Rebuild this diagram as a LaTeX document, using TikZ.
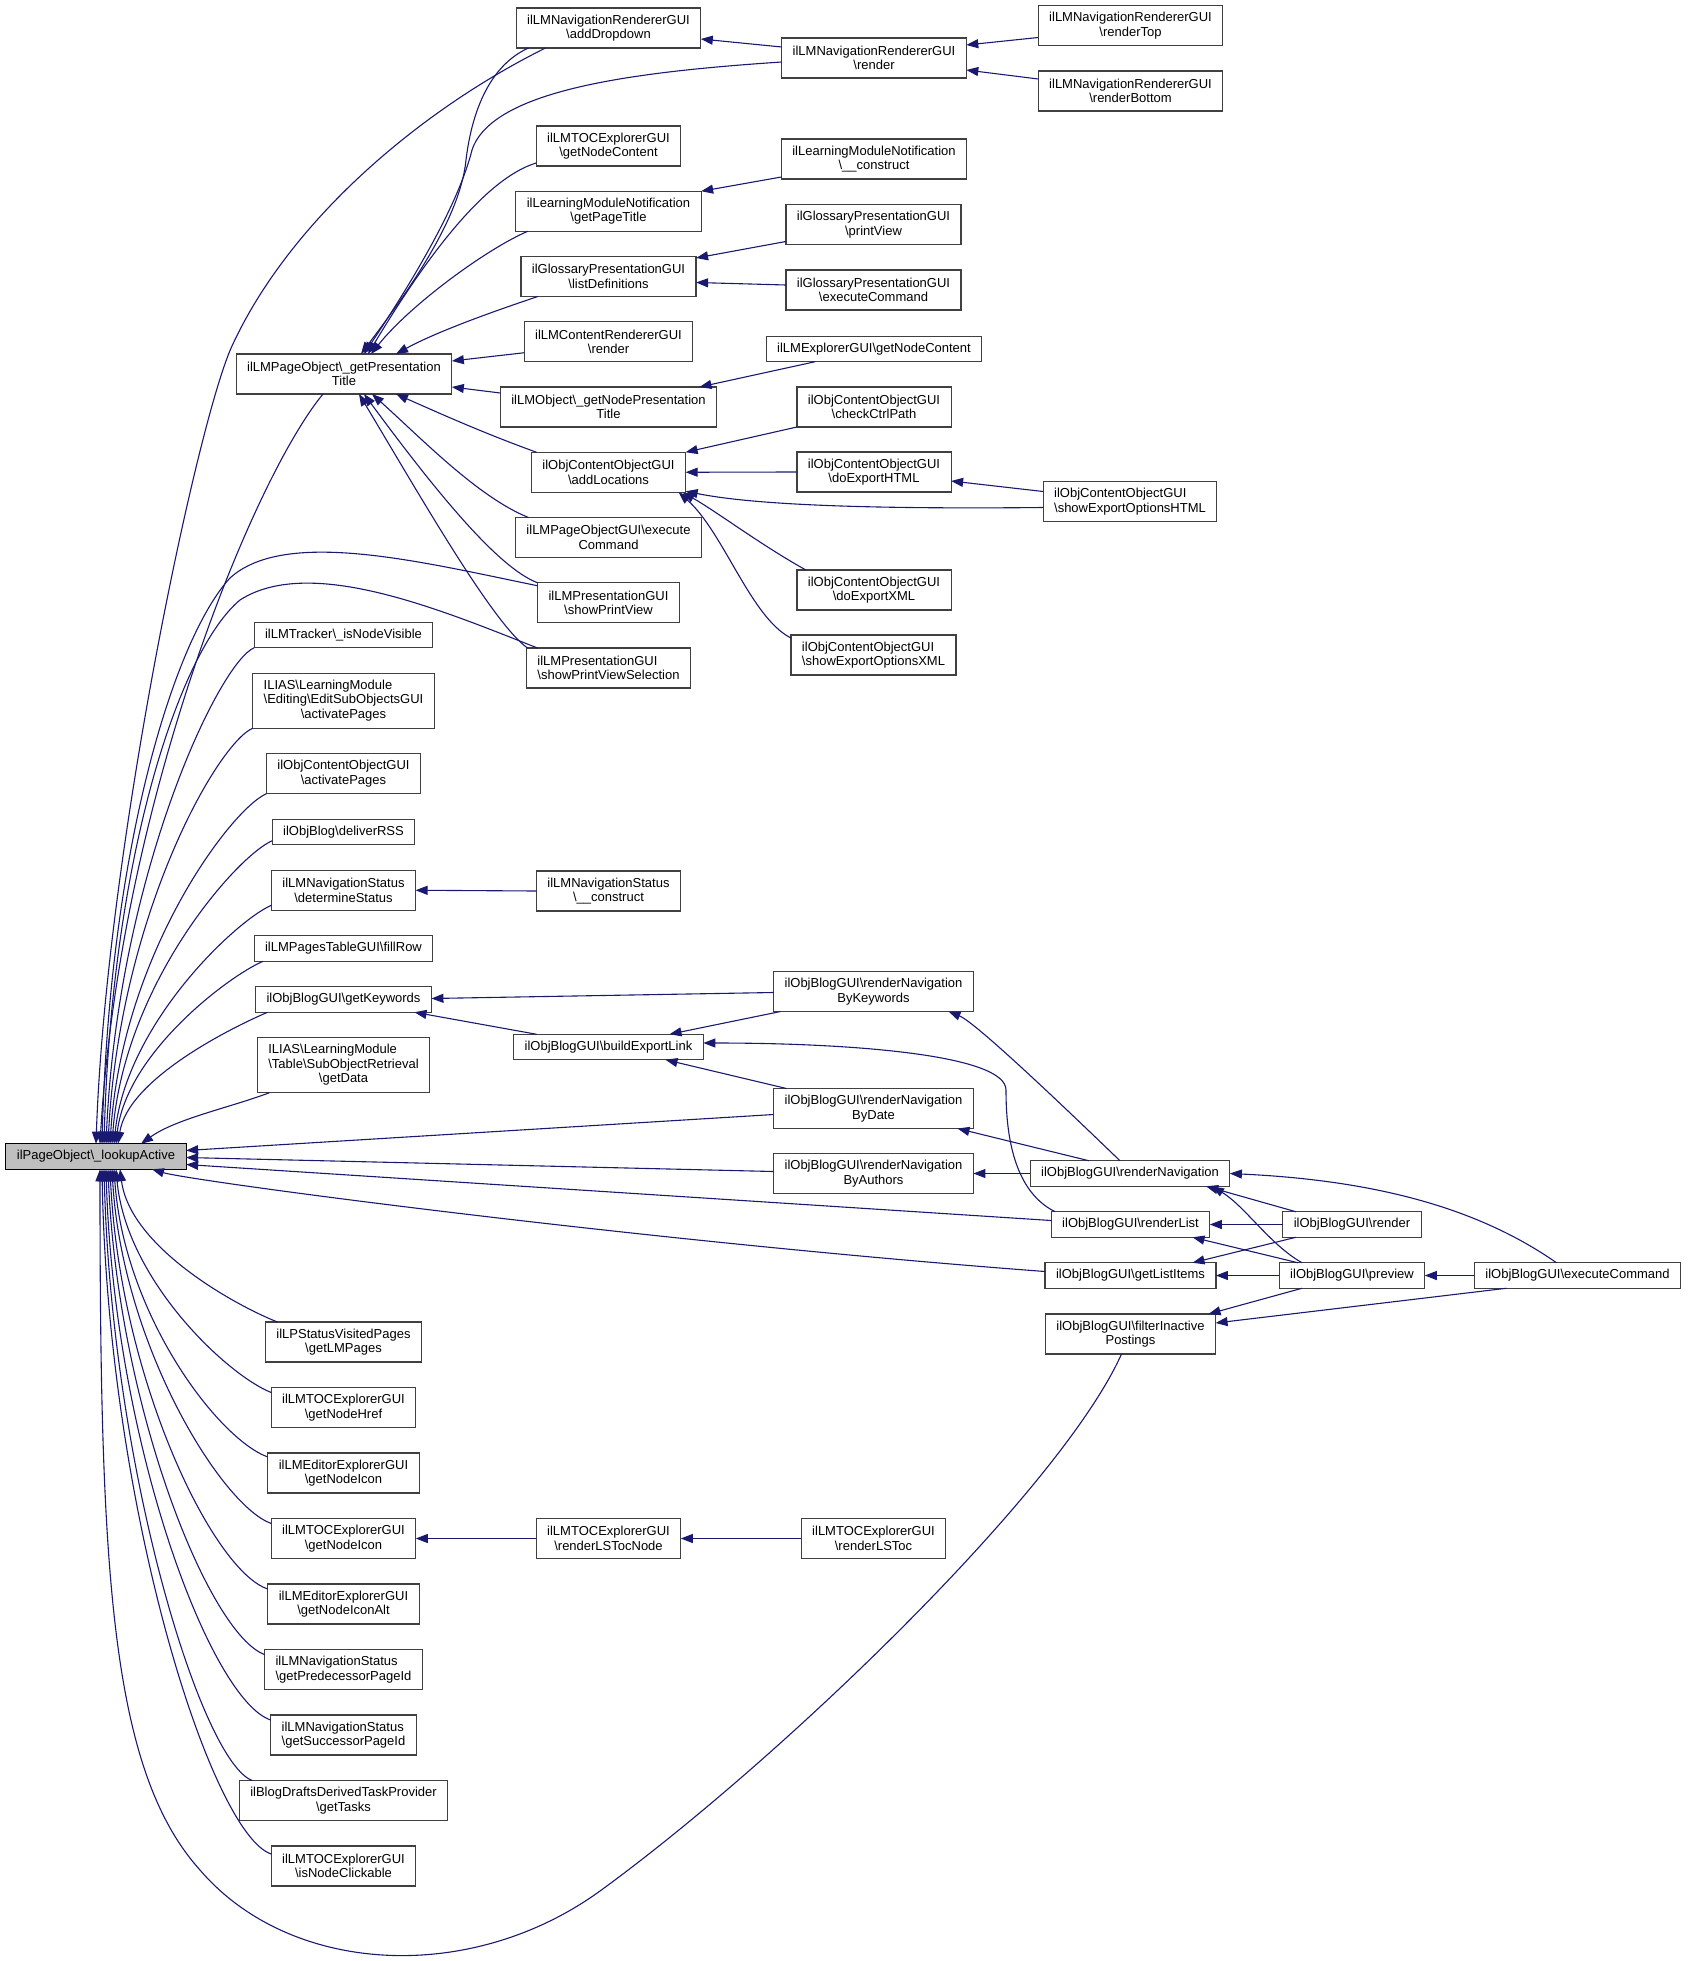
\documentclass[tikz,border=0pt]{standalone}
\usepackage{fontspec}
\setmainfont{Liberation Sans}
\usetikzlibrary{arrows.meta, positioning}
\definecolor{callblue}{RGB}{25,25,112}
\definecolor{boxgrey}{RGB}{64,64,64}
\definecolor{rootgrey}{RGB}{191,191,191}
\newcommand{\bksl}{\textbackslash}

\begin{document}
\begin{tikzpicture}[
        x=1pt, y=-1pt,
        node distance=25.5pt,
        fn/.style={rectangle, draw=boxgrey, line width=1.2pt, fill=white, align=center, font=\fontsize{13}{14.5}\selectfont, inner xsep=11pt, inner ysep=0pt, outer sep=0pt, minimum height=25.5pt},
        fntwo/.style={fn, minimum height=40pt},
        fnthree/.style={fn, minimum height=55pt},
        rootfn/.style={fn, draw=black, fill=rootgrey},
        call/.style={draw=callblue, line width=1.1pt, -{Triangle[length=12pt, width=9pt]}}
    ]
    \useasboundingbox (0,0) rectangle (1687,1961);

    % nodes
    \node[rootfn] (root) at (96,1156.5) {ilPageObject\bksl\_lookupActive};
    \node[fntwo] (prestitle) at (344,374) {ilLMPageObject\bksl\_getPresentation\\Title};

    \node[fn] (isvisible) at (343.5,635) {ilLMTracker\bksl\_isNodeVisible};
    \node[fnthree, below=of isvisible] (editsub) {\begin{tabular}{@{}l@{}}ILIAS\bksl LearningModule\\\bksl Editing\bksl EditSubObjectsGUI\\\multicolumn{1}{@{}c@{}}{\bksl activatePages}\end{tabular}};
    \node[fntwo, below=of editsub] (actpages) {ilObjContentObjectGUI\\\bksl activatePages};
    \node[fn, below=of actpages] (rss) {ilObjBlog\bksl deliverRSS};
    \node[fntwo, below=of rss] (detstatus) {ilLMNavigationStatus\\\bksl determineStatus};
    \node[fn, below=of detstatus] (fillrow) {ilLMPagesTableGUI\bksl fillRow};
    \node[fn, below=of fillrow] (keywords) {ilObjBlogGUI\bksl getKeywords};
    \node[fnthree, below=of keywords] (getdata) {\begin{tabular}{@{}l@{}}ILIAS\bksl LearningModule\\\bksl Table\bksl SubObjectRetrieval\\\multicolumn{1}{@{}c@{}}{\bksl getData}\end{tabular}};

    \node[fntwo] (lmpages) at (343.5,1342) {ilLPStatusVisitedPages\\\bksl getLMPages};
    \node[fntwo, below=of lmpages] (nodehref) {ilLMTOCExplorerGUI\\\bksl getNodeHref};
    \node[fntwo, below=of nodehref] (edicon) {ilLMEditorExplorerGUI\\\bksl getNodeIcon};
    \node[fntwo, below=of edicon] (tocicon) {ilLMTOCExplorerGUI\\\bksl getNodeIcon};
    \node[fntwo, below=of tocicon] (iconalt) {ilLMEditorExplorerGUI\\\bksl getNodeIconAlt};
    \node[fntwo, align=left, below=of iconalt] (predecessor) {ilLMNavigationStatus\\\bksl getPredecessorPageId};
    \node[fntwo, align=left, below=of predecessor] (successor) {ilLMNavigationStatus\\\bksl getSuccessorPageId};
    \node[fntwo, below=of successor] (tasks) {ilBlogDraftsDerivedTaskProvider\\\bksl getTasks};
    \node[fntwo, below=of tasks] (clickable) {ilLMTOCExplorerGUI\\\bksl isNodeClickable};

    \node[fntwo] (adddrop) at (608.5,28) {ilLMNavigationRendererGUI\\\bksl addDropdown};
    \node[fntwo] (toccontent) at (608.5,146) {ilLMTOCExplorerGUI\\\bksl getNodeContent};
    \node[fntwo, below=25.25pt of toccontent] (pagetitle) {ilLearningModuleNotification\\\bksl getPageTitle};
    \node[fntwo, below=25.25pt of pagetitle] (listdef) {ilGlossaryPresentationGUI\\\bksl listDefinitions};
    \node[fntwo, below=25.25pt of listdef] (ctrender) {ilLMContentRendererGUI\\\bksl render};
    \node[fntwo, below=25.25pt of ctrender] (nodepres) {ilLMObject\bksl\_getNodePresentation\\Title};
    \node[fntwo, below=25.25pt of nodepres] (addloc) {ilObjContentObjectGUI\\\bksl addLocations};
    \node[fntwo, below=25.25pt of addloc] (poexec) {ilLMPageObjectGUI\bksl execute\\Command};
    \node[fntwo, below=25.25pt of poexec] (printview) {ilLMPresentationGUI\\\bksl showPrintView};
    \node[fntwo, align=left, below=25.25pt of printview] (printsel) {ilLMPresentationGUI\\\bksl showPrintViewSelection};
    \node[fntwo] (nsconstruct) at (608.5,891) {ilLMNavigationStatus\\\bksl\_\_construct};
    \node[fn] (exportlink) at (608.5,1047) {ilObjBlogGUI\bksl buildExportLink};
    \node[fntwo] (lstocnode) at (608.5,1538.5) {ilLMTOCExplorerGUI\\\bksl renderLSTocNode};

    \node[fntwo] (navrender) at (874,58) {ilLMNavigationRendererGUI\\\bksl render};
    \node[fntwo] (lmnconstruct) at (874,159) {ilLearningModuleNotification\\\bksl\_\_construct};
    \node[fntwo] (gprint) at (873.5,224.5) {ilGlossaryPresentationGUI\\\bksl printView};
    \node[fntwo] (gexec) at (873.5,290) {ilGlossaryPresentationGUI\\\bksl executeCommand};
    \node[fn] (lmexpl) at (874,349) {ilLMExplorerGUI\bksl getNodeContent};
    \node[fntwo] (ctrlpath) at (874,407) {ilObjContentObjectGUI\\\bksl checkCtrlPath};
    \node[fntwo] (doexphtml) at (874,472) {ilObjContentObjectGUI\\\bksl doExportHTML};
    \node[fntwo] (doexpxml) at (874,590) {ilObjContentObjectGUI\\\bksl doExportXML};
    \node[fntwo, align=left] (expoptxml) at (873.5,655) {ilObjContentObjectGUI\\\bksl showExportOptionsXML};
    \node[fntwo] (bykw) at (873.5,991.5) {ilObjBlogGUI\bksl renderNavigation\\ByKeywords};
    \node[fntwo] (bydate) at (873.5,1108.5) {ilObjBlogGUI\bksl renderNavigation\\ByDate};
    \node[fntwo] (byauth) at (873.5,1173.5) {ilObjBlogGUI\bksl renderNavigation\\ByAuthors};
    \node[fntwo] (lstoc) at (873.5,1538.5) {ilLMTOCExplorerGUI\\\bksl renderLSToc};

    \node[fntwo] (rtop) at (1130.5,25.5) {ilLMNavigationRendererGUI\\\bksl renderTop};
    \node[fntwo] (rbottom) at (1130.5,91) {ilLMNavigationRendererGUI\\\bksl renderBottom};
    \node[fntwo, align=left] (expopthtml) at (1130,501.5) {ilObjContentObjectGUI\\\bksl showExportOptionsHTML};
    \node[fn] (rnav) at (1130,1173.5) {ilObjBlogGUI\bksl renderNavigation};
    \node[fn] (rlist) at (1130.5,1224.5) {ilObjBlogGUI\bksl renderList};
    \node[fn] (listitems) at (1130.5,1275.5) {ilObjBlogGUI\bksl getListItems};
    \node[fntwo] (filter) at (1130.5,1334) {ilObjBlogGUI\bksl filterInactive\\Postings};

    \node[fn] (brender) at (1352,1224.5) {ilObjBlogGUI\bksl render};
    \node[fn] (preview) at (1352,1275.5) {ilObjBlogGUI\bksl preview};
    \node[fn] (bexec) at (1577.5,1275.5) {ilObjBlogGUI\bksl executeCommand};

    % lines
    \path[call] ([yshift=11pt]navrender.west) -- ([yshift=-11pt]adddrop.east);
    \path[call] ([yshift=-12pt]rtop.west) -- ([yshift=13pt]navrender.east);
    \path[call] ([yshift=12pt]rbottom.west) -- ([yshift=-12pt]navrender.east);
    \path[call] ([yshift=2pt]lmnconstruct.south west) -- (pagetitle.north east);
    \path[call] ([yshift=3pt]gprint.south west) -- ([yshift=-1.5pt]listdef.north east);
    \path[call] ([yshift=5pt]gexec.west) -- ([yshift=-6pt]listdef.east);
    \path[call] ([xshift=-59pt]lmexpl.south) -- ([xshift=91pt]nodepres.north);
    \path[call] (ctrlpath.south west) -- (addloc.north east);
    \path[call] (doexphtml.west) -- (addloc.east);
    \path[call] ([yshift=10pt]expopthtml.west) -- ([yshift=-9pt]doexphtml.east);
    \path[call] ([yshift=-6pt]expopthtml.west) .. controls +(-200,2) and +(60,12) .. ([yshift=1pt]addloc.south east);
    \path[call] ([xshift=9pt]doexpxml.north west) .. controls +(-45,-25) and +(35,20) .. ([xshift=-3pt]addloc.south east);
    \path[call] ([yshift=17pt]expoptxml.west) .. controls +(-40,-20) and +(45,40) .. ([xshift=-7pt]addloc.south east);
    \path[call] (nsconstruct.west) -- (detstatus.east);
    \path[call] (lstoc.west) -- (lstocnode.east);
    \path[call] (lstocnode.west) -- (tocicon.east);

    % blog
    \path[call] ([yshift=-1pt]bykw.west) -- ([yshift=1pt]keywords.east);
    \path[call] ([xshift=-72pt]exportlink.north) -- ([xshift=71pt]keywords.south);
    \path[call] ([xshift=-93pt]bykw.south) -- ([xshift=61pt]exportlink.north);
    \path[call] ([xshift=-87pt]bydate.north) -- ([xshift=57pt]exportlink.south);
    \path[call] ([xshift=4pt]rlist.north west) .. controls +(-45,-22) and +(0,35) .. (1006,1090) .. controls +(0,-35) and +(150,0) .. ([yshift=4pt]exportlink.east);
    \path[call] ([xshift=-10pt]rnav.north) .. controls +(-20,-19) and +(30,12) .. ([xshift=75pt]bykw.south);
    \path[call] ([xshift=-41pt]rnav.north) -- ([xshift=84pt]bydate.south);
    \path[call] (rnav.west) -- (byauth.east);
    \path[call] ([xshift=-56pt]brender.north) -- ([xshift=76pt]rnav.south);
    \path[call] ([xshift=-50pt]preview.north) .. controls +(-32,-18) and +(33,20) .. ([xshift=82pt]rnav.south);
    \path[call] ([xshift=-21pt]bexec.north) .. controls +(-76,-53) and +(150,7) .. (rnav.east);
    \path[call] (brender.west) -- (rlist.east);
    \path[call] ([xshift=-54pt]preview.north) -- ([xshift=62pt]rlist.south);
    \path[call] ([xshift=-56pt]brender.south) -- ([xshift=62pt]listitems.north);
    \path[call] (preview.west) -- (listitems.east);
    \path[call] (bexec.west) -- (preview.east);
    \path[call] ([xshift=-50pt]preview.south) -- ([xshift=78pt]filter.north);
    \path[call] ([xshift=-71pt]bexec.south) -- ([yshift=11pt]filter.east);

    % presentation title
    \path[call] ([xshift=-80pt]adddrop.south) .. controls +(-38,17) and +(6,-50) .. (466,160) .. controls +(-6,60) and +(45,-60) .. ([xshift=17pt]prestitle.north);
    \path[call] ([yshift=-4pt]navrender.west) .. controls +(-150,10) and +(20,-60) .. (472,150) .. controls +(-15,60) and +(40,-60) .. ([xshift=20pt]prestitle.north);
    \path[call] ([yshift=3pt]toccontent.south west) .. controls +(-50,15) and +(60,-100) .. ([xshift=24pt]prestitle.north);
    \path[call] ([xshift=12pt]pagetitle.south west) .. controls +(-40,17) and +(40,-50) .. ([xshift=27pt]prestitle.north);
    \path[call] ([xshift=17pt]listdef.south west) .. controls +(-45,15) and +(40,-22) .. ([xshift=52pt]prestitle.north);
    \path[call] ([yshift=-11pt]ctrender.west) -- ([yshift=13pt]prestitle.east);
    \path[call] ([yshift=14pt]nodepres.west) -- ([yshift=-13pt]prestitle.east);
    \path[call] ([xshift=-72pt]addloc.north) .. controls +(-50,-18) and +(45,20) .. ([xshift=52pt]prestitle.south);
    \path[call] ([xshift=-80pt]poexec.north) .. controls +(-50,-20) and +(50,45) .. ([xshift=28pt]prestitle.south);
    \path[call] (printview.north west) .. controls +(-40,-15) and +(70,95) .. ([xshift=20pt]prestitle.south);
    \path[call] ([xshift=1pt]printsel.north west) .. controls +(-35,-25) and +(60,100) .. ([xshift=15pt]prestitle.south);

    % lookup active, above
    \path[call] ([xshift=-63pt]adddrop.south) .. controls +(-125,62) and +(58,-126) .. (232,346) .. controls +(-35,76) and +(10,-290) .. (root.north);
    \path[call] ([xshift=-21pt]prestitle.south) .. controls +(-70,85) and +(20,-340) .. ([xshift=4pt]root.north);
    \path[call] ([yshift=17pt]printview.west) .. controls +(-117,-24) and +(55,-50) .. (230,578) .. controls +(-55,60) and +(8,-300) .. ([xshift=6pt]root.north);
    \path[call] ([xshift=11pt]printsel.north west) .. controls +(-96,-38) and +(70,-45) .. (240,600) .. controls +(-60,50) and +(8,-290) .. ([xshift=8pt]root.north);
    \path[call] (isvisible.south west) .. controls +(-35,15) and +(12,-270) .. ([xshift=10pt]root.north);
    \path[call] (editsub.south west) .. controls +(-35,15) and +(12,-230) .. ([xshift=12pt]root.north);
    \path[call] (actpages.south west) .. controls +(-35,15) and +(12,-190) .. ([xshift=14pt]root.north);
    \path[call] ([yshift=4pt]rss.south west) .. controls +(-35,15) and +(12,-160) .. ([xshift=16pt]root.north);
    \path[call] ([yshift=5pt]detstatus.south west) .. controls +(-35,15) and +(12,-120) .. ([xshift=18pt]root.north);
    \path[call] ([xshift=9pt]fillrow.south west) .. controls +(-35,15) and +(10,-90) .. ([xshift=20pt]root.north);
    \path[call] ([xshift=12pt]keywords.south west) .. controls +(-35,15) and +(10,-65) .. ([xshift=22pt]root.north);
    \path[call] ([xshift=12pt]getdata.south west) .. controls +(-40,15) and +(35,-25) .. ([xshift=45pt]root.north);

    % lookup active, right
    \path[call] ([yshift=-6pt]bydate.west) -- ([yshift=6pt]root.east);
    \path[call] ([yshift=2pt]byauth.west) -- ([yshift=-1pt]root.east);
    \path[call] ([yshift=4pt]rlist.west) -- ([yshift=-8pt]root.east);
    \path[call] ([yshift=4pt]listitems.west) .. controls +(-400,-30) and +(40,12) .. ([xshift=56pt]root.south);
    \path[call] ([xshift=-9pt]filter.south) .. controls +(-61,136) and +(180,-131) .. (600,1891) .. controls +(-130,94) and +(90,105) .. (200,1870) .. controls +(-90,-100) and +(0,400) .. ([xshift=4pt]root.south);

    % lookup active, below
    \path[call] ([xshift=12pt]lmpages.north west) .. controls +(-45,-18) and +(10,77) .. ([xshift=24pt]root.south);
    \path[call] ([yshift=-5pt]nodehref.north west) .. controls +(-45,-18) and +(10,110) .. ([xshift=20pt]root.south);
    \path[call] ([yshift=-4pt]edicon.north west) .. controls +(-50,-18) and +(10,145) .. ([xshift=18pt]root.south);
    \path[call] ([yshift=-5pt]tocicon.north west) .. controls +(-50,-18) and +(10,175) .. ([xshift=16pt]root.south);
    \path[call] ([yshift=-5pt]iconalt.north west) .. controls +(-55,-18) and +(10,210) .. ([xshift=14pt]root.south);
    \path[call] ([yshift=-5pt]predecessor.north west) .. controls +(-55,-20) and +(10,240) .. ([xshift=12pt]root.south);
    \path[call] ([yshift=-5pt]successor.north west) .. controls +(-60,-20) and +(8,275) .. ([xshift=10pt]root.south);
    \path[call] ([xshift=13pt]tasks.north west) .. controls +(-50,-18) and +(8,305) .. ([xshift=8pt]root.south);
    \path[call] ([yshift=-8pt]clickable.north west) .. controls +(-60,-20) and +(6,340) .. ([xshift=6pt]root.south);

\end{tikzpicture}
\end{document}
